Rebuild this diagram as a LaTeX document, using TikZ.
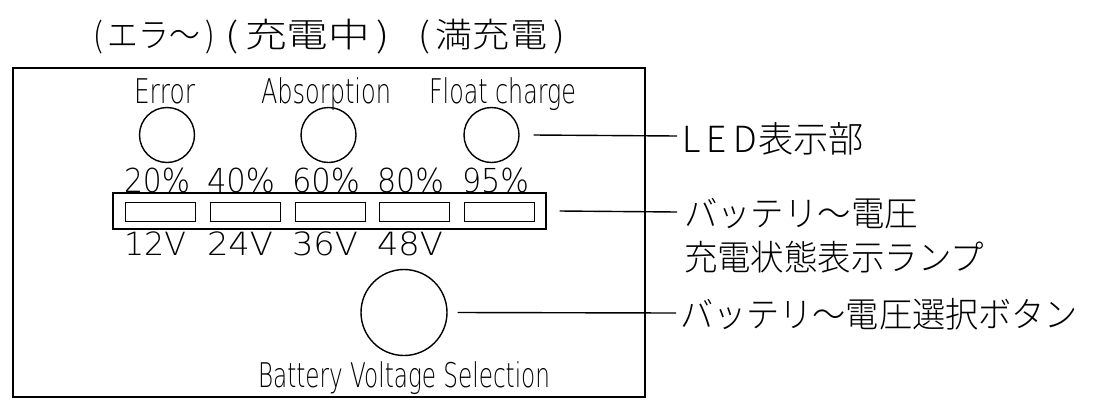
\documentclass[tikz,border=0pt]{standalone}
\usepackage{fontspec}
\setmainfont{DejaVu Sans}
\newfontfamily\cadfont{DejaVuSans-ExtraLight.ttf}
\newfontfamily\jpfont{Noto Sans CJK JP Light}
\newcommand{\cadtxt}[3]{\resizebox{#1}{\height}{\cadfont\fontsize{#2}{#2}\selectfont #3}}
\newcommand{\jptxt}[3]{\resizebox{#1}{\height}{\jpfont\fontsize{#2}{#2}\selectfont #3}}
\begin{document}
\begin{tikzpicture}[x=1pt,y=-1pt,
  lbl/.style={inner sep=0pt, outer sep=0pt, anchor=base west},
  frame/.style={draw=black, line width=1.6pt},
  ledc/.style={circle, draw=black, line width=1.4pt, minimum size=55pt, inner sep=0pt},
  btnc/.style={circle, draw=black, line width=1.4pt, minimum size=86pt, inner sep=0pt},
  stripbox/.style={draw=black, line width=1.1pt, minimum width=433pt, minimum height=36pt, inner sep=0pt},
  lampbox/.style={draw=black, line width=1pt, minimum width=70pt, minimum height=19pt, inner sep=0pt},
  leader/.style={draw=black, line width=1.4pt}]
\useasboundingbox (0,0) rectangle (1097,405);
% top Japanese captions
\node[lbl] (t1) at (93,47) {\jptxt{122pt}{34pt}{(\,エラ〜\,)}};
\node[lbl] (t2) at (225,47) {\jptxt{165pt}{34pt}{(\,充電中\,)}};
\node[lbl] (t3) at (418,47) {\jptxt{147pt}{34pt}{(\,満充電\,)}};
% outer frame
\node[frame, minimum width=632pt, minimum height=329pt, inner sep=0pt] (panel) at (329,232.5) {};
% LED labels
\node[lbl] (lerr) at (134,103) {\cadtxt{61pt}{34pt}{Error}};
\node[lbl] (labs) at (261,103) {\cadtxt{130pt}{34pt}{Absorption}};
\node[lbl] (lflt) at (429,103) {\cadtxt{147pt}{34pt}{Float charge}};
% LEDs
\node[ledc] (err) at (167,135) {};
\node[ledc] (abs) at (328.5,135) {};
\node[ledc] (flt) at (491.5,135) {};
% percent labels
\node[lbl] (p20) at (124,192) {\cadtxt{66pt}{33pt}{20\%}};
\node[lbl] (p40) at (207,192) {\cadtxt{68pt}{33pt}{40\%}};
\node[lbl] (p60) at (292,192) {\cadtxt{68pt}{33pt}{60\%}};
\node[lbl] (p80) at (377,192) {\cadtxt{67pt}{33pt}{80\%}};
\node[lbl] (p95) at (462,192) {\cadtxt{67pt}{33pt}{95\%}};
% lamp strip
\node[stripbox] (strip) at (329.5,211) {};
\node[lampbox] (l1) at (160,211.5) {};
\node[lampbox] (l2) at (245,211.5) {};
\node[lampbox] (l3) at (330,211.5) {};
\node[lampbox] (l4) at (414,211.5) {};
\node[lampbox] (l5) at (499,211.5) {};
% voltage labels
\node[lbl] (v12) at (124,255) {\cadtxt{62pt}{32pt}{12V}};
\node[lbl] (v24) at (207,255) {\cadtxt{66pt}{32pt}{24V}};
\node[lbl] (v36) at (292,255) {\cadtxt{66pt}{32pt}{36V}};
\node[lbl] (v48) at (377,255) {\cadtxt{66pt}{32pt}{48V}};
% selection button
\node[btnc] (btn) at (404,312.5) {};
\node[lbl] (lbtn) at (258,387) {\cadtxt{292pt}{34pt}{Battery Voltage Selection}};
% right-hand labels
\node[lbl] (rled) at (682,152) {\jptxt{182pt}{36pt}{L\hspace{0.18em}E\hspace{0.18em}D\hspace{0.05em}表示部}};
\node[lbl] (rbat1) at (684,226) {\jptxt{234pt}{35pt}{バッテリ〜電圧}};
\node[lbl] (rbat2) at (684,270) {\jptxt{300pt}{35pt}{充電状態表示ランプ}};
\node[lbl] (rsel) at (680,327) {\jptxt{398pt}{35pt}{バッテリ〜電圧選択ボタン}};
% leaders
\coordinate (eled) at (677,136);
\coordinate (estrip) at (677,212);
\coordinate (ebtn) at (676,313);
\draw[leader] ([xshift=14pt]flt.east) -- (eled);
\draw[leader] ([xshift=13pt]strip.east) -- (estrip);
\draw[leader] ([xshift=10pt]btn.east) -- (ebtn);
\end{tikzpicture}
\end{document}
